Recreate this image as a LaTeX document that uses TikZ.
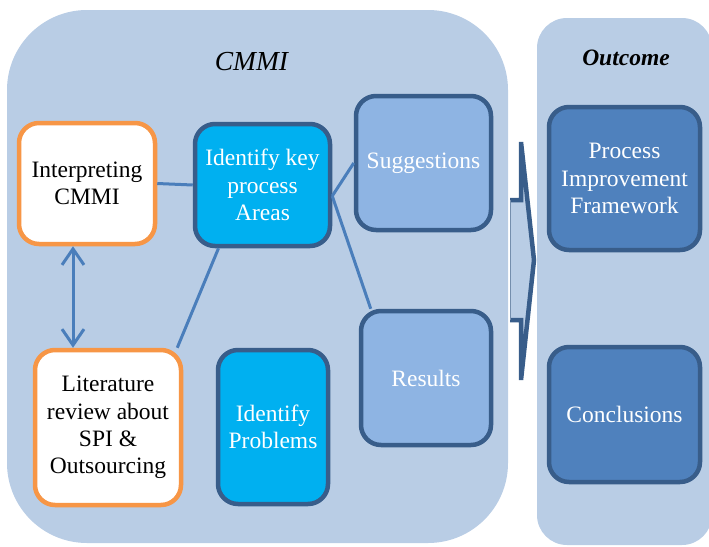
\documentclass[tikz,border=0pt]{standalone}
\usepackage{fontspec}
\setmainfont{Liberation Serif}
\usetikzlibrary{arrows.meta}
\definecolor{panelblue}{HTML}{B9CDE5}
\definecolor{boxedge}{HTML}{385D8A}
\definecolor{boxorange}{HTML}{F79646}
\definecolor{keycyan}{HTML}{00B0F0}
\definecolor{lightbox}{HTML}{8EB4E3}
\definecolor{darkbox}{HTML}{4F81BD}
\definecolor{linkblue}{HTML}{4A7EBB}

\begin{document}
\begin{tikzpicture}[x=1pt,y=1pt]
\tikzstyle{every node}+=[inner sep=0pt, align=center, font=\fontsize{23.5}{27.3}\selectfont]
\tikzstyle{orangebox}=[draw=boxorange, line width=4.5pt, fill=white, rounded corners=20pt]
\tikzstyle{bluebox}=[draw=boxedge, line width=4.5pt, rounded corners=20pt, text=white]
\tikzstyle{link}=[draw=linkblue, line width=3pt]
\useasboundingbox (0,0) rectangle (709,-546);
% panels
\fill [panelblue, rounded corners=80pt] (7,-10) rectangle (508,-543);
\fill [panelblue, rounded corners=30pt] (537,-18) rectangle (712,-545);
\node (cmmi) at (252,-62) {\fontsize{27.5}{31}\selectfont\textit{CMMI}};
\node (outcome) at (626,-58) {\fontsize{23.5}{27}\selectfont\textbf{\textit{Outcome}}};
% boxes
\node [orangebox, minimum width=136, minimum height=121] (interp) at (87,-183.5) {Interpreting\\CMMI};
\node [bluebox, fill=keycyan, minimum width=135, minimum height=122] (keyarea) at (262.5,-185) {Identify key\\process\\Areas};
\node [bluebox, fill=lightbox, minimum width=135, minimum height=134] (sugg) at (423.5,-163) {Suggestions};
\node [bluebox, fill=lightbox, minimum width=130, minimum height=134] (results) at (426,-378) {Results};
\node [orangebox, minimum width=146, minimum height=155] (litrev) at (108,-427.5) {Literature\\review about\\SPI \&\\Outsourcing};
\node [bluebox, fill=keycyan, minimum width=110, minimum height=154] (probl) at (273,-427) {Identify\\Problems};
\node [bluebox, fill=darkbox, minimum width=151, minimum height=143] (framework) at (624.5,-178.5) {Process\\Improvement\\Framework};
\node [bluebox, fill=darkbox, minimum width=151, minimum height=135] (concl) at (624.5,-414.5) {Conclusions};
% links
\draw [link] (interp.east) -- (keyarea.west);
\draw [link, {Straight Barb[length=16pt,width=22pt]}-{Straight Barb[length=16pt,width=22pt]}] ([xshift=-14pt]interp.south) -- ([xshift=-35pt]litrev.north);
\draw [link] ([xshift=-6pt]litrev.north east) -- ([xshift=-44pt]keyarea.south);
\draw [link] ([yshift=-11pt]keyarea.east) -- (sugg.west);
\draw [link] ([yshift=-11pt]keyarea.east) -- ([xshift=12pt]results.north west);
% big arrow
\fill [panelblue] (510,-200) -- (521,-200) -- (521,-142) -- (534,-260) -- (521,-380) -- (521,-320) -- (510,-320) -- cycle;
\draw [boxedge, line width=4.5pt, line join=miter] (510,-200) -- (521,-200) -- (521,-142) -- (534,-260) -- (521,-380) -- (521,-320) -- (510,-320);
\draw [boxedge!70, line width=0.8pt] (510,-200) -- (510,-320);
\end{tikzpicture}
\end{document}
